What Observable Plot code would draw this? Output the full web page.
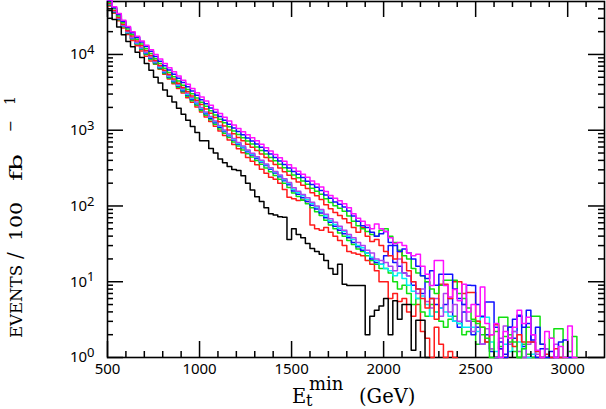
<!DOCTYPE html>
<html><head><meta charset="utf-8">
<script src="https://cdn.jsdelivr.net/npm/d3@7"></script>
<script src="https://cdn.jsdelivr.net/npm/@observablehq/plot@0.6"></script>
<style>body{margin:0;background:#fff} svg{display:block} #chart{font-family:"Liberation Sans",Arial,sans-serif}</style>
</head><body><div id="chart"></div>
<script>
// Histogram bins: 25 GeV wide, first bin starts at 500 GeV
const binStart = 500;
const binWidth = 25;
const xMajor = [500, 1000, 1500, 2000, 2500, 3000];
const xMinor = [600,700,800,900,1100,1200,1300,1400,1600,1700,1800,1900,2100,2200,2300,2400,2600,2700,2800,2900,3100];
const yMajor = [1, 10, 100, 1000, 10000];
const yExp = ["0", "1", "2", "3", "4"];
const yMinor = [2,3,4,5,6,7,8,9,20,30,40,50,60,70,80,90,200,300,400,500,600,700,800,900,2000,3000,4000,5000,6000,7000,8000,9000,20000,30000,40000];

const black = [38000,29000,23000,18200,14800,12600,10700,9100,7600,6200,
 5000,4200,3400,2800,2350,1950,1620,1350,1120,930,
 725,725,575,500,417,372,331,302,295,251,
 200,162,132,115,95,79,76,72,71,36,
 50,42,38,32,27.5,25,23,19,15,12.6,
 17,9.3,8.9,8.9,8.9,8.9,2.0,3.5,4.2,4.8,
 6.0,2.0,5.6,3.2,5.0,5.0,1.25,3.1,3.1,0];

const magenta = [52500,42700,34700,28200,23400,20000,17400,15100,13200,11500,
 10000,8710,7590,6680,5890,5190,4570,4030,3550,3130,
 2750,2430,2140,1880,1660,1480,1320,1170,1050,955,
 871,794,724,653,589,531,479,432,389,351,
 316,288,263,240,214,195,178,155,138,126,
 117,107,95,79,69,63,56,50,58,50,
 46,38,32,33,30,24,22,23,16,12.6,
 8.9,19,19,8.9,6.3,7.9,5.6,9.3,4,5,
 3.5,8.5,2.8,2,2.8,0,2.2,1.8,2.5,4.2,
 2.8,3.4,2,1.25,0,2.2,1.8,0,1.4,0,
 2.6,0];

const blue1 = [51000,41500,33800,27400,22700,19300,16800,14600,12700,11000,
 9400,8150,7100,6250,5500,4850,4250,3740,3300,2900,
 2520,2240,1960,1720,1520,1350,1200,1070,960,870,
 790,722,660,595,537,484,436,393,354,318,
 285,262,238,212,192,177,160,140,126,113,
 105,97,86,74,63,55,52,45,40,43,
 46,33,30,25,27,24,20,16,12,11,
 14,9,12.6,12.6,12.6,8,6,5,9,8.9,
 5,3.5,5.4,5.4,2.5,1.3,0,2.5,3.2,3.6,
 2.5,4.2,1.7,2.5,1.5,0,1.2,0,1.6,1.7,0];

const green1 = [49000,40000,32300,26300,21700,18400,15900,13700,11900,10300,
 8800,7600,6600,5780,5080,4460,3920,3450,3040,2670,
 2340,2070,1810,1590,1400,1250,1110,980,880,795,
 722,660,600,540,487,438,394,355,319,288,
 257,235,213,194,172,157,143,125,111,101,
 93,85,74,63,55,50,46,42,40,48,
 50,40,33,26,22,20,15,13,12,10,
 8,7,9,10.5,10.5,10.5,7,6,4.5,3.2,
 2.8,2.5,1.8,0,2.2,3.4,3.4,2,1.6,0,
 1.3,2.5,3.5,3.5,1.5,0,1.8,2.4,2.4,0,
 1.2,1.9];

const red1 = [47000,38000,30800,25000,20600,17500,15100,13000,11200,9700,
 8300,7150,6200,5420,4750,4160,3650,3210,2820,2480,
 2180,1910,1670,1470,1290,1140,1010,895,800,725,
 655,596,540,485,436,392,352,317,284,255,
 228,207,188,170,150,136,122,104,92,82,
 75,68,60,52,45,52,40,34,36,30,
 25,22,20,25,18,14,10,8,6,4.5,
 6,3.2,9.3,9.3,6,10,10,7,7.2,7.2,
 3,2.5,1.6,2,2.7,1.3,0,1.8,1.4,2.0,
 1.6,1.6,1.6,1.2,0,1.1,0,1.3,0];

const purple2 = [46800,37500,30100,24200,19900,16800,14400,12400,10700,9240,
 8100,7000,6050,5280,4600,4030,3520,3080,2700,2360,
 1990,1740,1520,1320,1150,1010,890,780,690,620,
 549,495,448,400,358,320,286,256,228,204,
 174,157,142,128,112,100,90,78,68,61,
 54,48,42,38,33,30,26,24,20,19,
 18,16,14,20,13,12,10,7,8,5.5,
 4.5,6,3.5,7,4,5,3,5,3,2.2,
 3,1.5,2.4,1.3,0,1.8,2.6,1.5,2.2,1.2,
 0,1.5,2,1.1,0,1.3,0,1.5,0];

const cyan2 = [46500,37200,29800,24000,19700,16600,14200,12200,10500,9100,
 7950,6850,5920,5150,4480,3920,3420,2990,2620,2290,
 1950,1700,1480,1290,1125,985,865,760,670,600,
 537,484,435,390,350,313,280,250,222,198,
 166,150,136,122,108,97,86,74,64,57,
 51,46,40,36,30,28,24,21,19,17,
 15,14,12,13,11,9,7.5,6,6.5,5,
 3.5,4,4.5,4,3.5,3,2.8,2.5,2.5,2.5,
 2.2,3.4,3.4,1.6,1.2,0,1.5,1.2,2.2,1.6,
 1.3,0,1.1,1.2,0];

const blue2 = [45700,36700,29300,23700,19400,16300,14000,12000,10300,8900,
 7750,6700,5800,5040,4380,3820,3330,2910,2550,2230,
 1900,1650,1440,1255,1095,960,845,740,655,585,
 520,470,423,380,341,305,272,243,215,190,
 158,143,128,115,102,91,81,70,61,54,
 48,43,38,33,29,26,24,20,18,17,
 22,30,18,16,13,12,9,8,7,10,
 6,5,4.5,5,6,3,2.5,4,3,2,
 2.5,1.5,2,1.2,0,1.6,1.1,2.5,1.8,3.5,
 1.4,2.8,1.6,0,1.3,1.3,0];

const green2 = [44700,35900,28700,23200,19000,16000,13700,11700,10000,8650,
 7500,6480,5610,4870,4230,3690,3210,2800,2450,2140,
 1820,1580,1375,1195,1040,910,800,700,620,550,
 490,442,397,355,318,284,253,225,200,176,
 148,133,119,107,95,84,75,65,56,50,
 44,40,35,31,27,25,22,19,17,15,
 15,13,10,8,9,7,5,6,4,3.5,
 5,4,3,2.5,3.2,3.5,2.8,2,2.2,3,
 1.5,2,1.6,1.3,0,1.4,1.9,1.6,1.2,0,
 1.5,1.1,0];

const red2 = [43700,35000,27900,22400,18300,15300,13000,11100,9500,8200,
 7400,6400,5500,4740,4100,3560,3090,2690,2340,2030,
 1735,1500,1300,1125,975,850,745,650,570,505,
 435,390,350,305,270,240,225,200,165,130,
 125,118,120,115,56,50,48,52,45,40,
 35,30,25,24,23,22,19,17,14,10,
 10,6,7,5.5,6,4,3.5,5,2.2,1.8,
 0,2.5,1.5,0,1.2,0];

// drawing order: lower group first, SM (black) last
const seriesNames = ["red2","green2","blue2","cyan2","purple2","red1","green1","blue1","magenta","black"];
const seriesValues = [red2, green2, blue2, cyan2, purple2, red1, green1, blue1, magenta, black];
const seriesColors = ["#ff1a1a","#10e010","#1010ff","#00f0f0","#b040f0","#ff1a1a","#10e010","#1010ff","#ff10ff","black"];

const rows = [];
seriesNames.forEach((name, k) => {
  const vals = seriesValues[k];
  vals.forEach((v, i) => rows.push({s: name, x: binStart + i*binWidth, v}));
  rows.push({s: name, x: binStart + vals.length*binWidth, v: 0});
});

const W = 606, H = 409, mL = 107, mR = 2, mT = 1, mB = 52;
const xDom = [500, 3200], yDom = [1, 50000];
const pw = W - mL - mR, ph = H - mT - mB;
const maj = 16, mino = 6;
// tick lengths (pixels) expressed in data units for rule marks
const gevPerPx = (xDom[1] - xDom[0]) / pw;
const decPerPx = Math.log10(yDom[1] / yDom[0]) / ph;
const xLen = px => px * gevPerPx;
const yFac = px => Math.pow(10, px * decPerPx);
const tk = {stroke: "black", strokeWidth: 1.5};

const plot = Plot.plot({
  width: W, height: H,
  marginLeft: mL, marginRight: mR, marginTop: mT, marginBottom: mB,
  x: {domain: xDom, axis: null},
  y: {type: "log", domain: yDom, axis: null},
  color: {domain: seriesNames, range: seriesColors},
  marks: [
    Plot.frame({stroke: "black", strokeWidth: 1.6}),
    // empty bins drop to the bottom axis (10^0)
    Plot.line(rows, {x: "x", y: d => Math.max(d.v, 1), z: "s", stroke: "s", curve: "step-after", strokeWidth: 1.5}),
    Plot.ruleX(xMajor, {x: d => d, y1: yDom[0], y2: yDom[0] * yFac(maj), ...tk}),
    Plot.ruleX(xMinor, {x: d => d, y1: yDom[0], y2: yDom[0] * yFac(mino), ...tk}),
    Plot.ruleX(xMajor, {x: d => d, y1: yDom[1] / yFac(maj), y2: yDom[1], ...tk}),
    Plot.ruleX(xMinor, {x: d => d, y1: yDom[1] / yFac(mino), y2: yDom[1], ...tk}),
    Plot.ruleY(yMajor, {y: d => d, x1: xDom[0], x2: xDom[0] + xLen(maj), ...tk}),
    Plot.ruleY(yMinor, {y: d => d, x1: xDom[0], x2: xDom[0] + xLen(mino), ...tk}),
    Plot.ruleY(yMajor, {y: d => d, x1: xDom[1] - xLen(maj), x2: xDom[1], ...tk}),
    Plot.ruleY(yMinor, {y: d => d, x1: xDom[1] - xLen(mino), x2: xDom[1], ...tk}),
    Plot.axisX({ticks: xMajor, tickSize: 0, tickPadding: 6, fontSize: 15, label: null, tickFormat: d => String(d)}),
    Plot.axisY({ticks: yMajor, tickSize: 0, tickPadding: 13, fontSize: 15, label: null, tickFormat: d => "10|" + yExp[yMajor.indexOf(d)]})
  ]
});
document.getElementById("chart").appendChild(plot);
const svg = d3.select(plot);
svg.selectAll("g[aria-label='y-axis tick label'] text").each(function() {
  const t = this.textContent.split("|");
  const el = d3.select(this).text(t[0]);
  el.append("tspan").attr("dy", "-0.4em").attr("font-size", 13).text(t[1]);
});

const serif = "DejaVu Serif, Liberation Serif, serif";
// Y title, rotated, built from chunks placed along the baseline
const yg = svg.append("g").attr("transform", "translate(22,338) rotate(-90)")
  .attr("font-family", serif).attr("fill", "black").attr("text-anchor", "start");
yg.append("text").attr("x", 0).attr("font-size", 17).attr("textLength", 73).attr("lengthAdjust", "spacingAndGlyphs").text("EVENTS");
yg.append("text").attr("x", 79).attr("font-size", 20).text("/");
yg.append("text").attr("x", 97).attr("font-size", 17).attr("textLength", 39).attr("lengthAdjust", "spacingAndGlyphs").text("100");
yg.append("text").attr("x", 157).attr("font-size", 17).attr("textLength", 27).attr("lengthAdjust", "spacingAndGlyphs").text("fb");
yg.append("text").attr("x", 206).attr("y", -7).attr("font-size", 14).attr("textLength", 12).attr("lengthAdjust", "spacingAndGlyphs").text("\u2212");
yg.append("text").attr("x", 233).attr("y", -7).attr("font-size", 14).text("1");
// X title
const xg = svg.append("g").attr("font-family", serif).attr("fill", "black").attr("text-anchor", "start");
xg.append("text").attr("x", 292).attr("y", 403).attr("font-size", 19.5).text("E");
xg.append("text").attr("x", 306).attr("y", 406).attr("font-size", 16).text("t");
xg.append("text").attr("x", 309).attr("y", 390).attr("font-size", 18).text("min");
xg.append("text").attr("x", 359).attr("y", 403).attr("font-size", 19.5).text("(GeV)");
</script></body></html>
